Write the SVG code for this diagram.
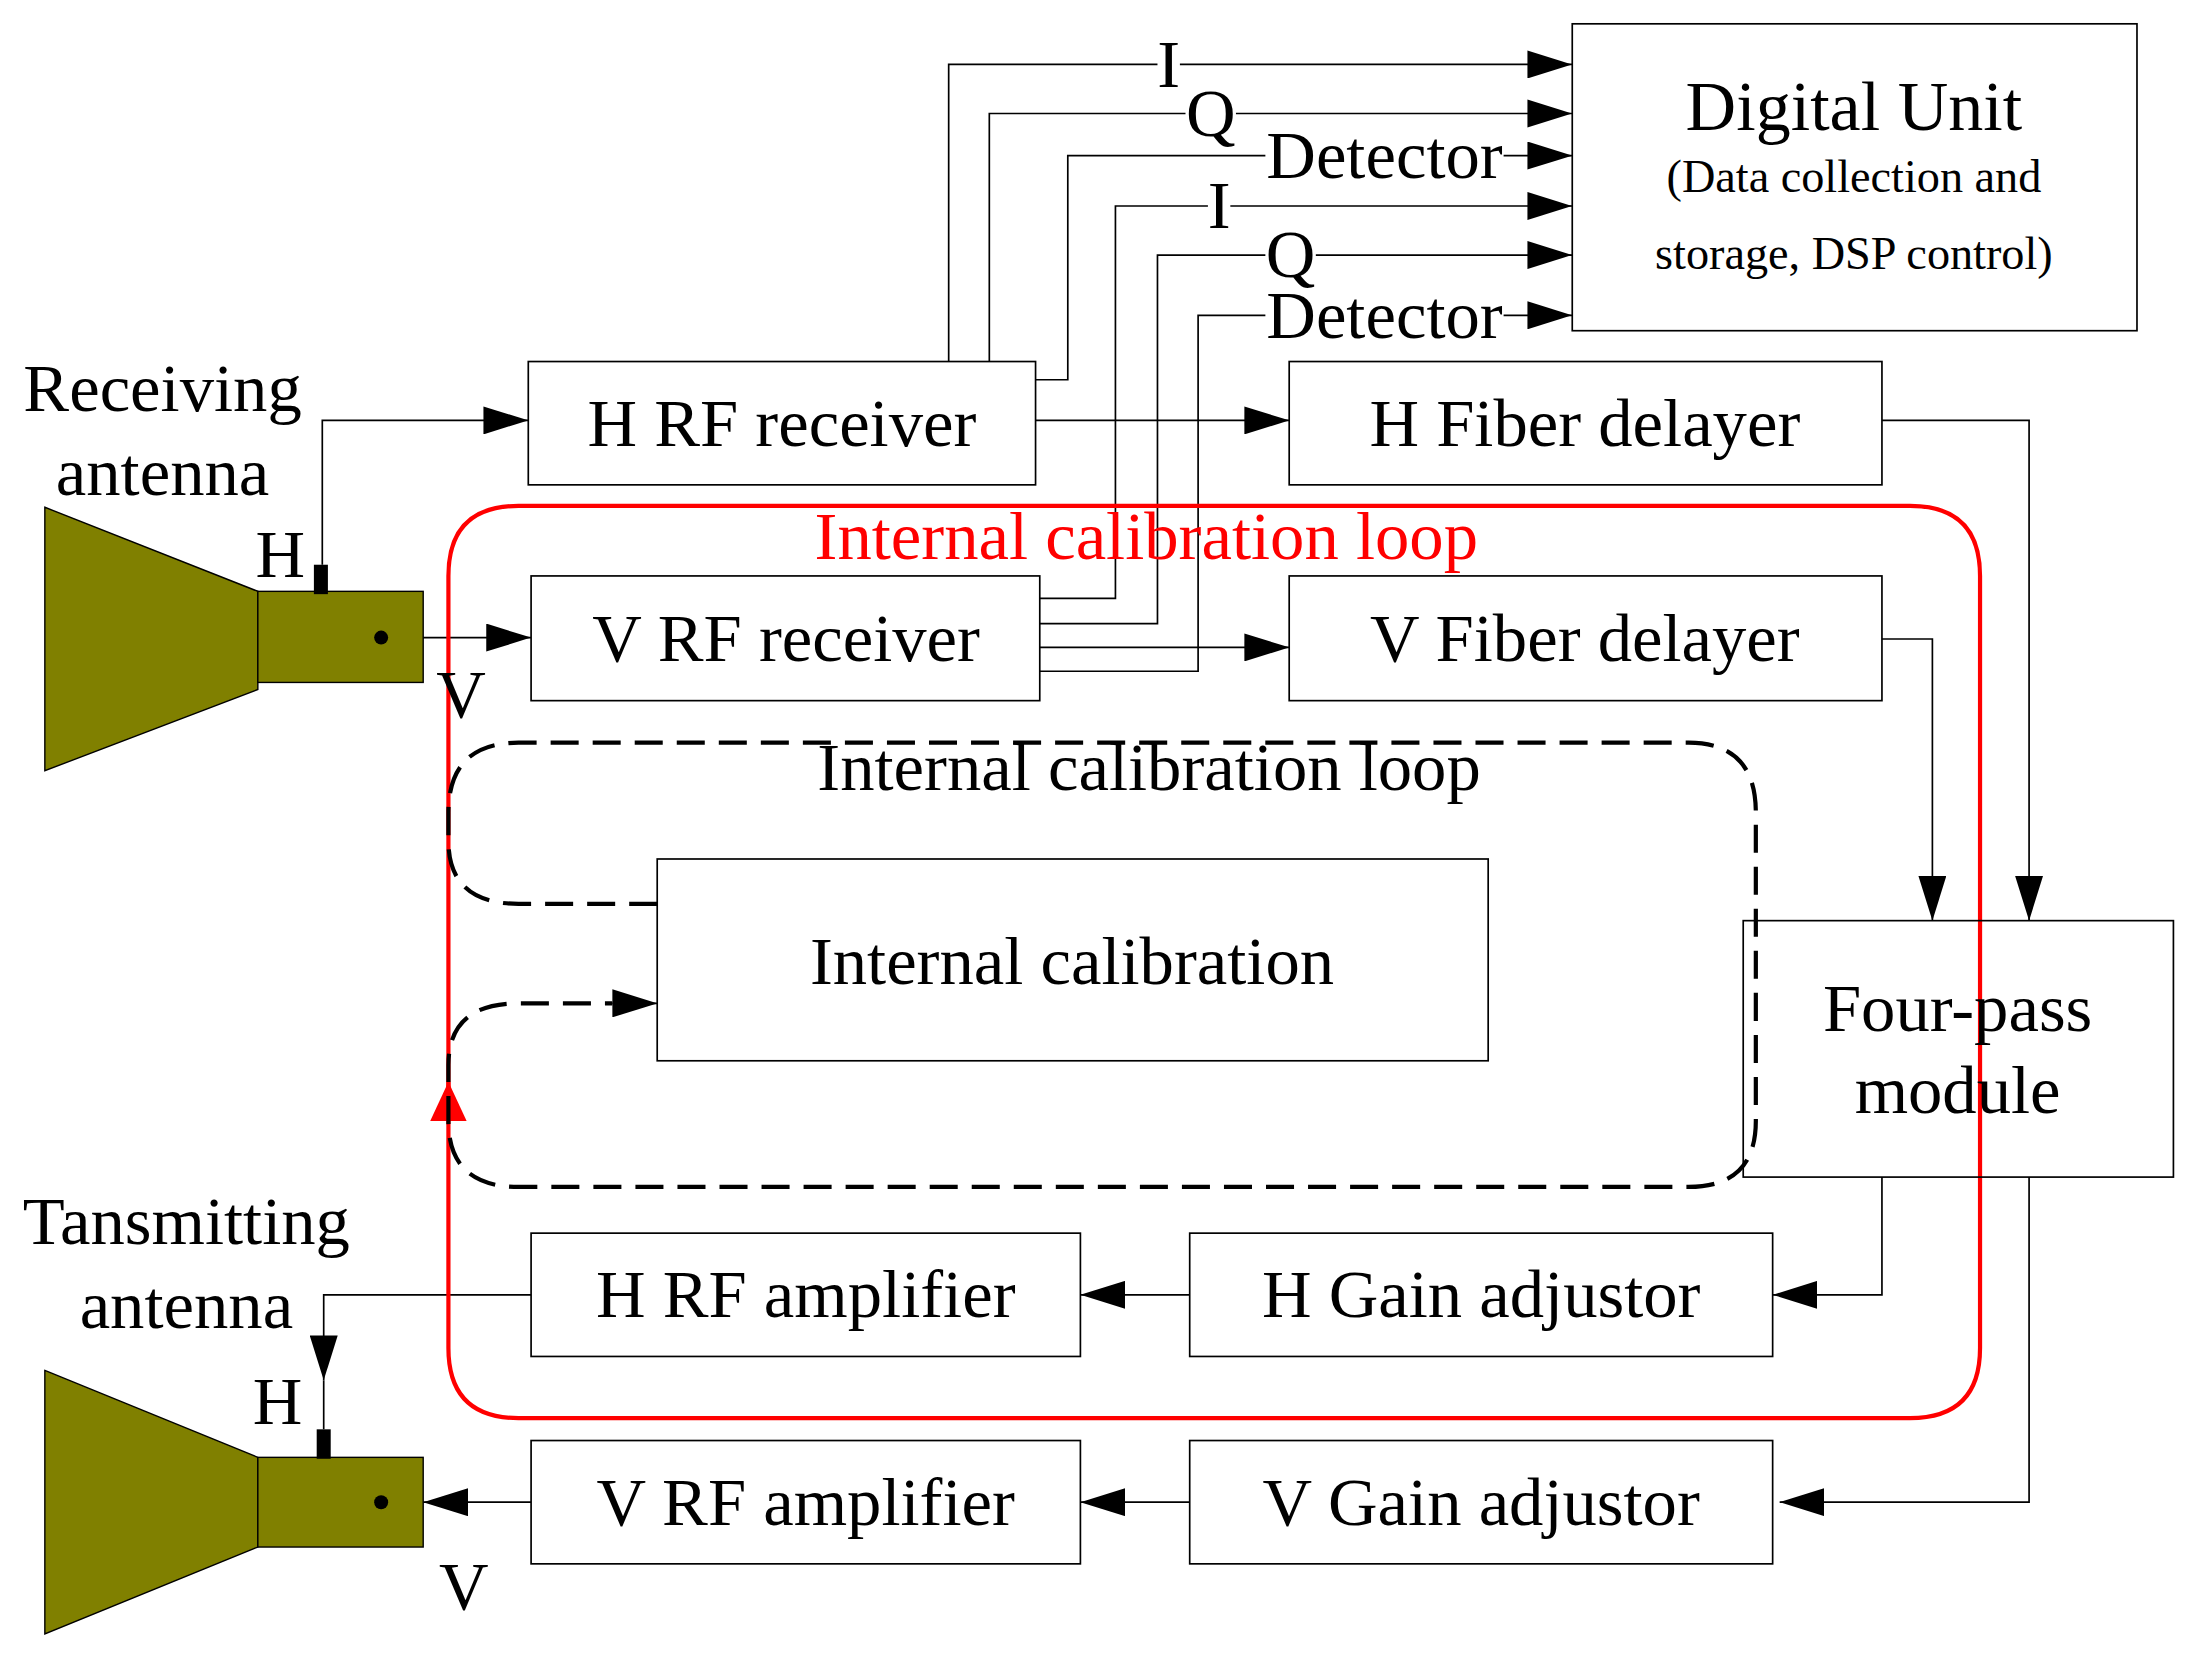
<svg xmlns="http://www.w3.org/2000/svg" width="2186" height="1655" viewBox="0 0 2186 1655">
<defs>
<marker id="ah" markerWidth="32" markerHeight="20" refX="32" refY="10" orient="auto" markerUnits="userSpaceOnUse"><path d="M0,0 L32,10 L0,20 Z" fill="#000"/></marker>
<marker id="ahr" markerWidth="28" markerHeight="32" refX="28" refY="13" orient="auto" markerUnits="userSpaceOnUse"><path d="M0,0 L28,13 L0,26 Z" fill="#f00"/></marker>
</defs>
<style>
.b{fill:#fff;stroke:#000;stroke-width:1.2}
.t{font-family:"Liberation Serif",serif;font-size:49px;text-anchor:middle;fill:#000}
.s{font-family:"Liberation Serif",serif;font-size:33px;text-anchor:middle}
.l{fill:none;stroke:#000;stroke-width:1.2}
.a{marker-end:url(#ah)}
.ol{fill:#808000;stroke:#000;stroke-width:1}
</style>
<rect width="2186" height="1655" fill="#fff"/>
<g transform="scale(1.4013)">
<g id="connectors">
<path class="l a" d="M677,258 V46 H1122"/>
<path class="l a" d="M706,258 V81 H1122"/>
<path class="l a" d="M739,271 H762 V111 H1122"/>
<path class="l a" d="M742,427 H796 V147 H1122"/>
<path class="l a" d="M742,445 H826 V182 H1122"/>
<path class="l a" d="M742,479 H855 V225 H1122"/>
<path class="l a" d="M742,462 H920"/>
<path class="l a" d="M739,300 H920"/>
<path class="l a" d="M230,403 V300 H377"/>
<path class="l a" d="M272,455 H379"/>
<path class="l a" d="M1343,300 H1448 V657"/>
<path class="l a" d="M1330,456 H1379 V657"/>
<path class="l a" d="M1343,840 V924 H1265"/>
<path class="l a" d="M1448,840 V1072 H1270"/>
<path class="l a" d="M849,924 H771"/>
<path class="l a" d="M849,1072 H771"/>
<path class="l a" d="M379,924 H231 V985"/>
<path class="l" d="M231,985 V1020"/>
<path class="l a" d="M379,1072 H302"/>
<path d="M320,800 V575 M320,575 V411 Q320,361 370,361 H1363 Q1413,361 1413,411 V962 Q1413,1012 1363,1012 H370 Q320,1012 320,962 V800" fill="none" stroke="#f00" stroke-width="3"/>
<path d="M320,800 V772" fill="none" stroke="#f00" stroke-width="3" marker-end="url(#ahr)"/>
<path d="M469,645 H370 Q320,645 320,600 V580 Q320,530 370,530 H1205 Q1253,530 1253,580 V800 Q1253,847 1205,847 H370 Q320,847 320,800 V760 Q320,716 370,716 H437" fill="none" stroke="#000" stroke-width="3" stroke-dasharray="20,10"/>
<path d="M437,716 H469" class="l a" stroke-width="3"/>
</g>
<g id="labels-io">
<rect x="826" y="28" width="16" height="36" fill="#fff"/><text class="t" x="834" y="62">I</text>
<rect x="846" y="64" width="36" height="36" fill="#fff"/><text class="t" x="864" y="97">Q</text>
<rect x="903" y="92" width="170" height="38" fill="#fff"/><text class="t" x="988" y="127">Detector</text>
<rect x="862" y="130" width="16" height="36" fill="#fff"/><text class="t" x="870" y="163">I</text>
<rect x="903" y="165" width="36" height="36" fill="#fff"/><text class="t" x="921" y="198">Q</text>
<rect x="903" y="208" width="170" height="36" fill="#fff"/><text class="t" x="988" y="241">Detector</text>
</g>
<g id="digital-unit"><rect class="b" x="1122" y="17" width="403" height="219"/>
<text class="t" x="1323" y="93" style="font-size:50px">Digital Unit</text>
<text class="s" x="1323" y="137">(Data collection and</text>
<text class="s" x="1323" y="192">storage, DSP control)</text></g>
<g id="h-rf-receiver"><rect class="b" x="377" y="258" width="362" height="88"/><text class="t" x="558" y="318">H RF receiver</text></g>
<g id="v-rf-receiver"><rect class="b" x="379" y="411" width="363" height="89"/><text class="t" x="561" y="472">V RF receiver</text></g>
<g id="h-fiber"><rect class="b" x="920" y="258" width="423" height="88"/><text class="t" x="1131" y="318">H Fiber delayer</text></g>
<g id="v-fiber"><rect class="b" x="920" y="411" width="423" height="89"/><text class="t" x="1131" y="472">V Fiber delayer</text></g>
<g id="four-pass"><rect class="b" x="1244" y="657" width="307" height="183" style="fill:none"/><text class="t" x="1397" y="736">Four-pass</text><text class="t" x="1397" y="794">module</text></g>
<g id="internal-cal"><rect class="b" x="469" y="613" width="593" height="144"/><text class="t" x="765" y="702">Internal calibration</text></g>
<g id="h-gain"><rect class="b" x="849" y="880" width="416" height="88"/><text class="t" x="1057" y="940">H Gain adjustor</text></g>
<g id="h-amp"><rect class="b" x="379" y="880" width="392" height="88"/><text class="t" x="575" y="940">H RF amplifier</text></g>
<g id="v-gain"><rect class="b" x="849" y="1028" width="416" height="88"/><text class="t" x="1057" y="1088">V Gain adjustor</text></g>
<g id="v-amp"><rect class="b" x="379" y="1028" width="392" height="88"/><text class="t" x="575" y="1088">V RF amplifier</text></g>
<g id="rx-antenna">
<polygon class="ol" points="32,362 184,422 184,492 32,550"/>
<rect class="ol" x="184" y="422" width="118" height="65"/>
<rect x="224" y="403" width="10" height="21" fill="#000"/>
<circle cx="272" cy="455" r="5" fill="#000"/>
<text class="t" x="116" y="293">Receiving</text><text class="t" x="116" y="353">antenna</text>
<text class="t" x="200" y="412">H</text><text class="t" x="329" y="512">V</text>
</g>
<g id="tx-antenna">
<polygon class="ol" points="32,978 184,1040 184,1104 32,1166"/>
<rect class="ol" x="184" y="1040" width="118" height="64"/>
<rect x="226" y="1020" width="10" height="21" fill="#000"/>
<circle cx="272" cy="1072" r="5" fill="#000"/>
<text class="t" x="133" y="888">Tansmitting</text><text class="t" x="133" y="948">antenna</text>
<text class="t" x="198" y="1016">H</text><text class="t" x="331" y="1148">V</text>
</g>
<g id="loop-labels">
<text class="t" x="818" y="399" style="fill:#f00">Internal calibration loop</text>
<text class="t" x="820" y="564">Internal calibration loop</text>
</g>
</g>
</svg>
